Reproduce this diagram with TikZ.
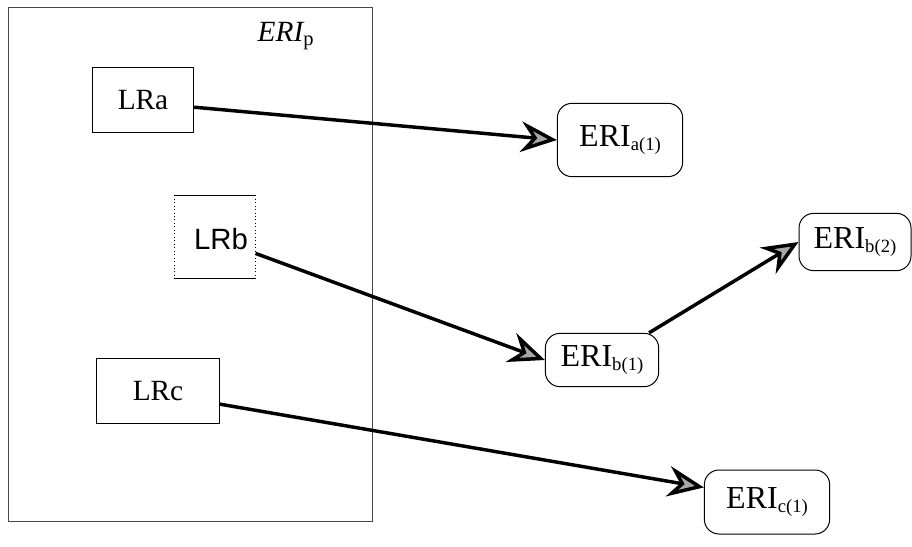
\documentclass[tikz,border=0pt]{standalone}
\usepackage{fontspec}
\setmainfont{Liberation Serif}
\newfontfamily\lrbfont{Liberation Sans}
\usetikzlibrary{arrows.meta}

\newcommand{\eri}[1]{ERI\raisebox{-3pt}{\fontsize{14}{14}\selectfont #1}}
\newcommand{\lrtext}[1]{\fontsize{22}{24}\selectfont #1}

\tikzset{every picture/.style={line width=0.75pt}}
\tikzset{
lrbox/.style={draw, rectangle, inner sep=0pt},
eribox/.style={draw, rectangle, rounded corners=11pt, inner sep=0pt, font=\fontsize{24}{26}\selectfont},
link/.style={line width=2.6pt, -{Stealth[length=27pt, width=23pt, inset=9pt, fill=gray!70]}}
}

\begin{document}
\begin{tikzpicture}[x=0.75pt,y=0.75pt,yscale=-1,xscale=1]
\path[use as bounding box] (0,0) rectangle (912,546);

%Shape: Rectangle [id:outer]
\draw [color={rgb, 255:red, 70; green, 70; blue, 70 }, line width=0.6pt] (8,7) rectangle (372,521);
% Text Node
\node (erip) at (286,36) {\fontsize{22}{24}\selectfont$\mathit{ERI}_{\mathrm{p}}$};

%Shape: Rectangle [id:lra]
\node [lrbox, minimum width=76pt, minimum height=49pt] (LRa) at (143,100) {\lrtext{LRa}};
%Shape: Rectangle [id:lrb]
\node [inner sep=0pt, minimum width=60pt, minimum height=62pt] (LRb) at (215,237) {};
\node (LRbtext) at (221,239) {\lrbfont\fontsize{22}{24}\selectfont LRb};
\draw (LRb.north west) -- (LRb.north east) ;
\draw (LRb.south west) -- (LRb.south east) ;
\draw [dotted, line width=0.6pt] (LRb.north west) -- (LRb.south west) ;
\draw [dotted, line width=0.6pt] (LRb.north east) -- (LRb.south east) ;
%Shape: Rectangle [id:lrc]
\node [lrbox, minimum width=92pt, minimum height=49pt] (LRc) at (158,391) {\lrtext{LRc}};

%Shape: Rounded Rect [id:eri]
\node [eribox, minimum width=94pt, minimum height=55pt] (ERIa1) at (620,140) {\eri{a(1)}};
\node [eribox, minimum width=85pt, minimum height=40pt] (ERIb1) at (602,360) {\eri{b(1)}};
\node [eribox, minimum width=84pt, minimum height=43pt] (ERIb2) at (855,242) {\eri{b(2)}};
\node [eribox, minimum width=94pt, minimum height=48pt] (ERIc1) at (767,502) {\eri{c(1)}};

%Straight Lines [id:links]
\draw [link] (LRa.-8) -- (ERIa1.west) ;
\draw [link] (LRb.-22) -- (ERIb1.west) ;
\draw [link] (ERIb1.30) -- (ERIb2.west) ;
\draw [link] (LRc.-12) -- (ERIc1.167) ;

\end{tikzpicture}
\end{document}
